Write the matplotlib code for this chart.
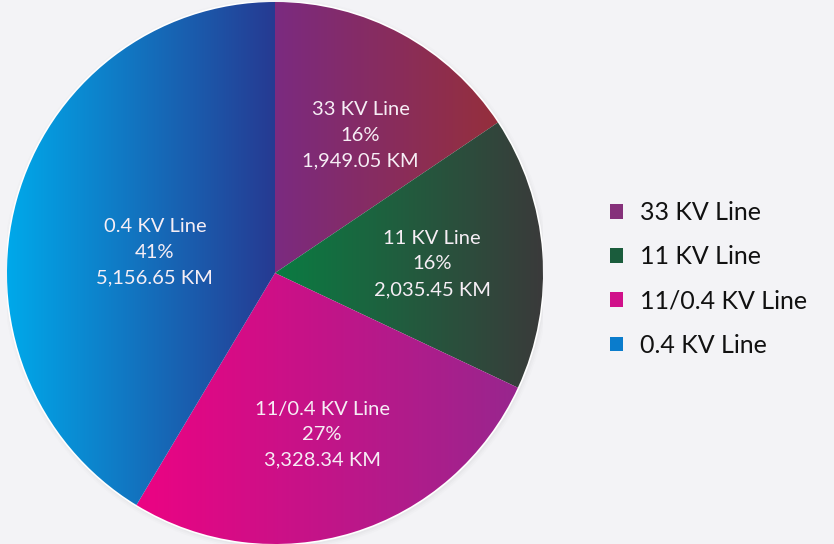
import numpy as np
import matplotlib.pyplot as plt
from matplotlib.colors import LinearSegmentedColormap
from matplotlib.patches import Patch

labels = ['33 KV Line', '11 KV Line', '11/0.4 KV Line', '0.4 KV Line']
lengths_km = [1949.05, 2035.45, 3328.34, 5156.65]
pct_text = ['16%', '16%', '27%', '41%']
# gradient colours per wedge: left -> right
grad = [('#7b2a80', '#952f3c'),
        ('#0a7c42', '#3a3a3a'),
        ('#ec0383', '#98268e'),
        ('#00a9ea', '#263a92')]
legend_colors = ['#85307a', '#1a5c3c', '#d0108a', '#0a7ccc']
# label placement: radius fraction and angle offset from wedge middle (deg)
label_dist = [0.60, 0.587, 0.623, 0.455]
label_turn = [-4.0, -1.1, -0.5, 5.8]

plt.rcParams['font.family'] = ['Lato', 'DejaVu Sans']
bg = '#f3f3f6'

fig = plt.figure(figsize=(8.34, 5.44), dpi=100, facecolor=bg)
W, H = 834, 544
cx, cy, rx, ry = 275, 273, 268, 271
ax = fig.add_axes([(cx - rx) / W, (H - cy - ry) / H, 2 * rx / W, 2 * ry / H])
ax.set_facecolor('none')

wedges, _ = ax.pie(lengths_km, startangle=90, counterclock=False, radius=1,
                   wedgeprops=dict(facecolor='none', edgecolor='none'))
ax.axis('off')

# soft shadow + white rim
for k, a in enumerate([0.05, 0.04, 0.03]):
    ax.add_patch(plt.Circle((0.004, -0.006), 1 + 0.006 * (k + 1), color='#9a9aa0',
                            alpha=a, zorder=0, lw=0))
ax.add_patch(plt.Circle((0, 0), 1.006, color='white', zorder=0.5, lw=0))

for i, w in enumerate(wedges):
    c1, c2 = grad[i]
    t = np.radians(np.linspace(w.theta1, w.theta2, 200))
    xs = np.concatenate([[0], np.cos(t)])
    cmap = LinearSegmentedColormap.from_list('g', [c1, c2])
    img = np.linspace(0, 1, 256).reshape(1, -1)
    im = ax.imshow(img, cmap=cmap, extent=[xs.min(), xs.max(), -1, 1], aspect='auto',
                   interpolation='bicubic', zorder=1)
    im.set_clip_path(w)
    mid = np.radians((w.theta1 + w.theta2) / 2 + label_turn[i])
    d = label_dist[i]
    ax.text(d * np.cos(mid), d * np.sin(mid),
            f'{labels[i]}\n{pct_text[i]}\n{lengths_km[i]:,.2f} KM',
            ha='center', va='center', color='#f6eef5', fontsize=14.5,
            linespacing=1.6, zorder=3)

ax.set_xlim(-1, 1)
ax.set_ylim(-1, 1)
ax.set_aspect('auto')

handles = [Patch(facecolor=c, edgecolor='none') for c in legend_colors]
leg = fig.legend(handles, labels, loc='center left', bbox_to_anchor=(587 / W, 1 - 279 / H),
                 frameon=False, fontsize=18, handlelength=0.52, handleheight=0.52,
                 handletextpad=0.68, labelspacing=0.85, labelcolor='#111111')

fig.savefig('out.png', dpi=100, facecolor=bg)
